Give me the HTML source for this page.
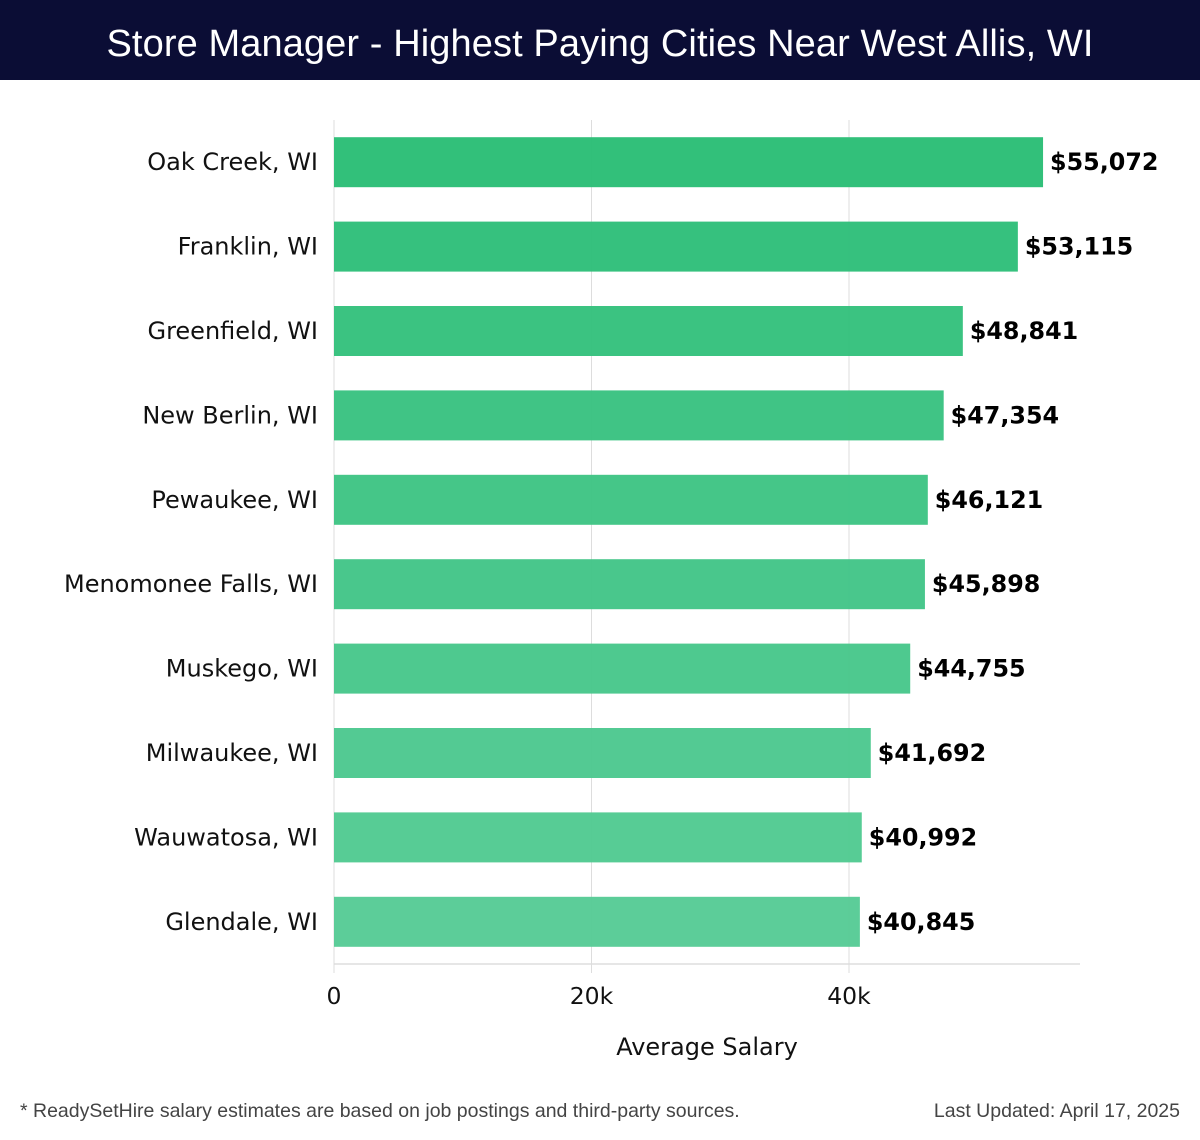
<!DOCTYPE html>
<html><head><meta charset="utf-8"><style>
html,body{margin:0;padding:0;background:#fff;width:1200px;height:1140px;overflow:hidden;font-family:"Liberation Sans",sans-serif}
#hdr{position:absolute;left:0;top:0;width:1200px;height:80px;background:#0b0d35;color:#fff;font-size:38px;letter-spacing:0.1px;text-align:center;line-height:88px}
.foot{position:absolute;top:1100px;font-size:19.5px;color:#444}
svg text{font-family:"DejaVu Sans",sans-serif}
</style></head><body>
<div id="hdr">Store Manager - Highest Paying Cities Near West Allis, WI</div>
<svg id="chart" width="1200" height="1140" style="position:absolute;left:0;top:0"></svg>
<div class="foot" style="left:20px">* ReadySetHire salary estimates are based on job postings and third-party sources.</div>
<div class="foot" style="right:20px">Last Updated: April 17, 2025</div>
<script>
const categories=["Oak Creek, WI","Franklin, WI","Greenfield, WI","New Berlin, WI","Pewaukee, WI","Menomonee Falls, WI","Muskego, WI","Milwaukee, WI","Wauwatosa, WI","Glendale, WI"];
const salaries=[55072,53115,48841,47354,46121,45898,44755,41692,40992,40845];
const tickValues=[0,20000,40000];
const tickLabels=["0","20k","40k"];
const NS="http://www.w3.org/2000/svg";
const svg=document.getElementById('chart');
const x0=334,pxPer=257.5/20000,top0=120,band=84.4,plotRight=1080,axisY=964;
const xs=v=>x0+v*pxPer;
const yc=i=>top0+band*(i+0.5);
function mk(t,a){const e=document.createElementNS(NS,t);for(const k in a)e.setAttribute(k,a[k]);svg.appendChild(e);return e;}
tickValues.forEach((v,i)=>{
  const g=mk('line',{x1:xs(v),x2:xs(v),y1:top0,y2:axisY+9,stroke:'#ddd','stroke-width':1});
  
  
  const t=mk('text',{x:xs(v),y:1004,'text-anchor':'middle','font-size':23.5,fill:'#111'});
  t.textContent=tickLabels[i];
  
  
});
const ax=mk('line',{x1:x0,x2:plotRight,y1:axisY,y2:axisY,stroke:'#ddd','stroke-width':1.5});


const c0=[43,190,118],c1=[87,203,150];
categories.forEach((c,i)=>{
  const f=i/(categories.length-1);
  const col='rgb('+c0.map((a,k)=>Math.round(a+(c1[k]-a)*f)).join(',')+')';
  const r=mk('rect',{x:x0,y:yc(i)-25,width:xs(salaries[i])-x0,height:50,fill:col,'fill-opacity':0.97});
  
  
  const l=mk('text',{x:318,y:yc(i)+8,'text-anchor':'end','font-size':24,fill:'#111'});
  l.textContent=c;
  
  
  const v=mk('text',{x:xs(salaries[i])+7,y:yc(i)+8,'font-size':23.8,'font-weight':'bold',fill:'#000'});
  v.textContent='$'+salaries[i].toLocaleString('en-US');
  
  
});
const at=mk('text',{x:707,y:1055,'text-anchor':'middle','font-size':24,fill:'#111'});
at.textContent='Average Salary';


</script>
</body></html>
